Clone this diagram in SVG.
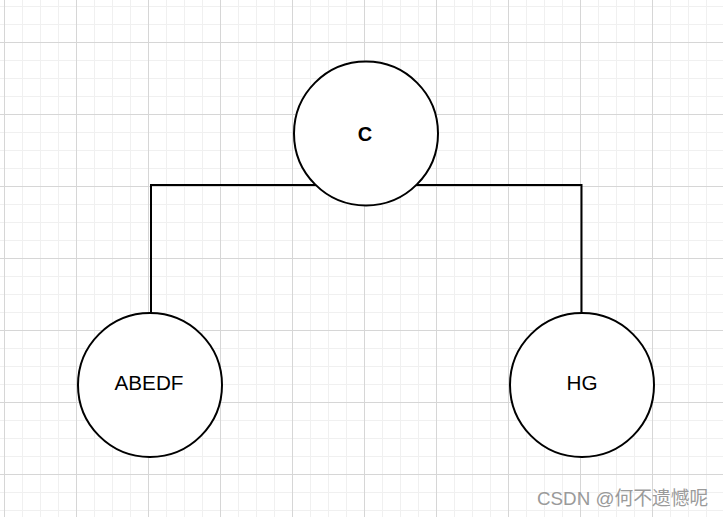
<svg xmlns="http://www.w3.org/2000/svg" width="723" height="517" viewBox="0 0 723 517">
  <defs>
    <pattern id="minor" x="4" y="6" width="18" height="18" patternUnits="userSpaceOnUse">
      <path d="M0.5 0V18M0 0.5H18" fill="none" stroke="#f0f0f0" stroke-width="1"/>
    </pattern>
    <pattern id="major" x="4" y="42" width="72" height="72" patternUnits="userSpaceOnUse">
      <path d="M0.5 0V72M0 0.5H72" fill="none" stroke="#d6d6d6" stroke-width="1"/>
    </pattern>
  </defs>
  <style>
    .node circle { fill: #ffffff; stroke: #000000; stroke-width: 2; }
    .node text { font-family: "Liberation Sans", Arial, sans-serif; font-size: 20.7px; fill: #000000; text-anchor: middle; }
    .edge { fill: none; stroke: #000000; stroke-width: 2; }
  </style>
  <rect width="723" height="517" fill="#ffffff"/>
  <rect width="723" height="517" fill="url(#minor)"/>
  <rect width="723" height="517" fill="url(#major)"/>
  <g id="connectors">
    <path class="edge" d="M366 185H151V313"/>
    <path class="edge" d="M366 185H581.5V313"/>
  </g>
  <g id="node-c" class="node">
    <circle cx="366" cy="133.5" r="72"/>
    <text x="365" y="141" font-weight="bold" style="font-size:20px">C</text>
  </g>
  <g id="node-abedf" class="node">
    <circle cx="150" cy="385" r="72"/>
    <text x="149" y="390">ABEDF</text>
  </g>
  <g id="node-hg" class="node">
    <circle cx="582" cy="385" r="72"/>
    <text x="582" y="390">HG</text>
  </g>
  <text x="537" y="505" font-family="'Liberation Sans', 'Noto Sans CJK SC', sans-serif" font-size="18.8" fill="#9a9a9a">CSDN @何不遗憾呢</text>
</svg>
